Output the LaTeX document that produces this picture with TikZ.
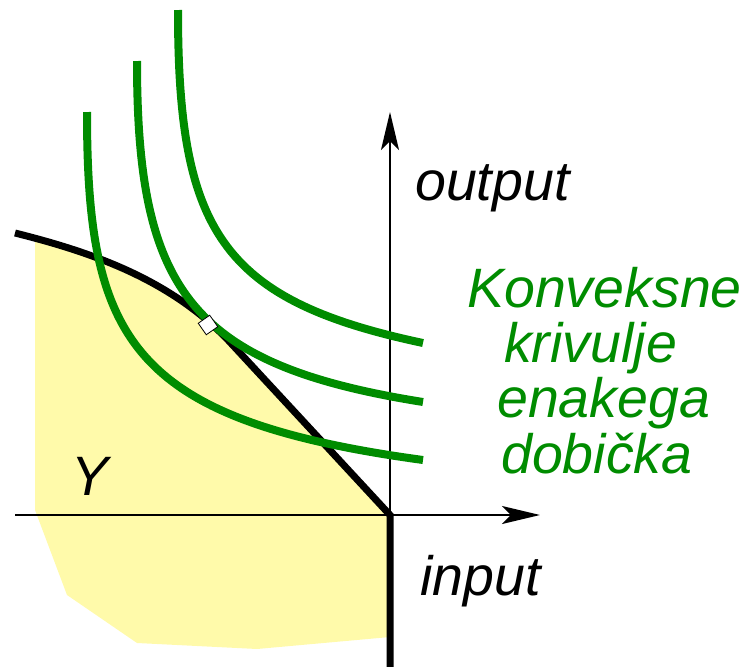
\documentclass[tikz,border=0pt]{standalone}
\usepackage{fontspec}
\setmainfont{Liberation Sans}
\usetikzlibrary{arrows.meta}
\definecolor{isogreen}{RGB}{0,140,0}
\definecolor{regyellow}{RGB}{255,250,170}
\tikzset{
  axisline/.style={line width=2pt, -{Stealth[length=38pt,width=18pt,inset=9pt]}},
  frontierline/.style={line width=7pt, line join=miter},
  isoline/.style={isogreen, line width=8pt},
  lbl/.style={inner sep=0pt, anchor=base west, font=\fontsize{55.5}{60}\selectfont\itshape},
  greenlbl/.style={lbl, text=isogreen},
  tanmark/.style={draw, fill=white, minimum size=14pt, inner sep=0pt, line width=0.8pt, rotate=35}
}
\begin{document}
\begin{tikzpicture}[x=1pt,y=-1pt]
\useasboundingbox (0,0) rectangle (748,667);
\coordinate (O) at (390,515);
\coordinate (xstart) at (15,515);
\coordinate (xend) at (540,515);
\coordinate (yend) at (390,112);
\coordinate (fstart) at (15,233);
\coordinate (fbend) at (228,340);
\coordinate (fbottom) at (390,667);
% feasible region
\begin{scope}
  \clip (35,0) rectangle (748,667);
  \fill[regyellow] (fstart) .. controls (95,253) and (170,280) .. (fbend) -- (O)
    -- (390,637) -- (257,649) -- (137,643) -- (67,595) -- (35,510) -- (15,510) -- cycle;
\end{scope}
% axes
\draw[axisline] (xstart) -- (xend);
\draw[axisline] (O) -- (yend);
% frontier
\draw[frontierline] (fstart) .. controls (95,253) and (170,280) .. (fbend) -- (O) -- (fbottom);
% iso-profit curves
\draw[isoline] (87,112) .. controls (87,340) and (130,420) .. (423,460);
\draw[isoline] (137,61) .. controls (137,290) and (190,365) .. (423,402);
\draw[isoline] (178,10) .. controls (178,230) and (220,300) .. (423,343);
% tangency point
\node[tanmark] (tan) at (208,325) {};
% labels
\node[lbl] (out) at (415,200) {output};
\node[lbl] (inp) at (420,595) {input};
\node[lbl] (Y) at (71,495) {Y};
\node[greenlbl] (l1) at (467,307) {Konveksne};
\node[greenlbl] (l2) at (504,362) {krivulje};
\node[greenlbl] (l3) at (497,417) {enakega};
\node[greenlbl] (l4) at (501,473) {dobička};
\end{tikzpicture}
\end{document}
